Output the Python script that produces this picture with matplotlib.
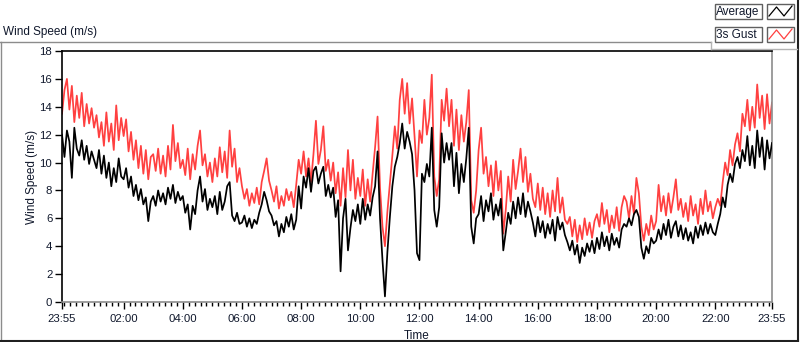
import numpy as np
import matplotlib
matplotlib.use("Agg")
import matplotlib.pyplot as plt
from matplotlib.lines import Line2D
from matplotlib.patches import Rectangle

# 5-minute samples starting at 23:55, one row per hour (00:00 .. 23:55)
gust_start = [13.5]
gust_hours = [
    [15.2, 16.0, 13.8, 15.5, 12.9, 14.8, 13.2, 15.0, 12.6, 14.2, 12.8, 13.9],
    [12.5, 13.4, 11.8, 12.9, 11.2, 13.6, 11.5, 12.8, 10.9, 14.1, 11.6, 13.2],
    [11.9, 13.1, 10.8, 12.2, 10.2, 11.6, 9.6, 11.2, 9.2, 10.9, 8.8, 10.4],
    [10.6, 9.4, 11.0, 9.2, 10.5, 9.0, 11.2, 9.5, 12.7, 10.1, 11.4, 9.6],
    [10.2, 9.1, 11.0, 8.8, 10.6, 9.5, 11.2, 12.3, 9.8, 10.6, 9.0, 10.0],
    [8.6, 10.3, 9.0, 11.1, 9.3, 10.8, 8.9, 12.3, 9.7, 11.0, 8.6, 9.6],
    [8.3, 7.4, 8.1, 6.9, 7.8, 7.1, 8.2, 7.0, 8.6, 9.4, 10.3, 8.7],
    [8.0, 7.2, 8.3, 6.7, 7.6, 6.9, 8.1, 7.3, 7.9, 6.8, 8.4, 10.2],
    [9.2, 10.8, 9.0, 10.3, 8.6, 10.6, 13.0, 9.9, 10.9, 12.6, 9.4, 10.2],
    [8.7, 10.0, 7.8, 9.3, 6.9, 9.6, 7.5, 10.9, 8.0, 10.2, 7.4, 8.9],
    [7.6, 9.5, 6.9, 8.8, 7.2, 9.2, 11.1, 13.3, 8.2, 5.4, 4.0, 6.5],
    [8.5, 10.5, 12.6, 11.0, 14.5, 16.0, 13.5, 15.7, 12.8, 14.6, 11.9, 9.0],
    [12.3, 11.4, 14.5, 12.0, 13.2, 16.3, 9.0, 7.6, 8.8, 14.5, 13.0, 15.3],
    [12.6, 14.5, 11.2, 13.8, 10.9, 13.4, 11.5, 12.9, 15.2, 7.3, 6.4, 8.0],
    [10.9, 12.5, 9.2, 10.4, 8.3, 9.8, 7.6, 10.1, 8.0, 9.4, 4.9, 6.6],
    [9.0, 7.2, 10.2, 8.1, 9.4, 11.0, 8.6, 10.4, 7.9, 9.2, 7.4, 6.8],
    [8.5, 6.6, 8.2, 6.3, 7.8, 6.1, 8.0, 6.5, 8.9, 6.4, 7.5, 5.9],
    [5.6, 6.1, 4.7, 5.9, 4.3, 5.5, 4.5, 6.0, 4.8, 5.7, 4.6, 5.8],
    [6.3, 5.4, 7.1, 5.6, 6.6, 5.0, 6.2, 5.3, 6.8, 5.1, 6.8, 7.6],
    [7.2, 6.0, 7.6, 6.3, 8.9, 7.8, 5.4, 4.4, 5.6, 4.8, 6.2, 5.2],
    [5.8, 8.4, 6.5, 7.6, 6.2, 7.8, 6.4, 7.5, 8.8, 6.6, 7.4, 6.1],
    [7.1, 5.8, 7.6, 6.2, 7.0, 5.6, 7.4, 6.3, 8.0, 6.5, 7.2, 6.0],
    [6.8, 7.4, 6.9, 8.6, 10.0, 9.1, 10.9, 9.8, 11.3, 12.1, 10.8, 13.5],
    [12.6, 14.5, 12.3, 14.0, 12.5, 15.6, 13.2, 14.8, 12.4, 14.9, 12.8, 14.3],
]

avg_start = [12.0]
avg_hours = [
    [10.4, 12.3, 11.5, 8.9, 12.5, 11.0, 10.5, 11.6, 10.2, 11.2, 9.9, 10.8],
    [10.2, 9.6, 10.9, 9.2, 10.5, 8.9, 10.0, 8.3, 9.6, 8.6, 10.3, 9.0],
    [8.8, 9.6, 8.2, 9.0, 7.6, 8.4, 7.3, 8.1, 7.0, 7.5, 5.8, 7.2],
    [7.6, 6.9, 8.0, 7.2, 7.8, 7.0, 8.2, 7.4, 8.4, 7.1, 7.9, 7.3],
    [7.6, 6.4, 7.0, 5.2, 6.9, 6.3, 8.0, 9.0, 7.2, 8.1, 6.6, 7.4],
    [6.8, 7.6, 6.3, 7.9, 6.6, 7.2, 8.3, 8.6, 6.2, 5.8, 6.4, 5.6],
    [5.7, 6.2, 5.4, 6.0, 5.3, 5.9, 5.6, 6.4, 7.0, 7.9, 7.3, 6.5],
    [6.2, 5.5, 5.8, 4.7, 5.6, 5.0, 6.1, 5.4, 6.3, 5.2, 5.9, 8.3],
    [6.7, 9.0, 8.2, 9.6, 7.9, 9.4, 9.7, 8.5, 9.2, 9.7, 7.6, 8.4],
    [7.5, 8.2, 6.1, 7.3, 2.2, 6.0, 7.4, 3.7, 5.3, 6.6, 5.8, 7.0],
    [5.6, 7.4, 5.9, 7.0, 6.2, 7.5, 8.3, 10.8, 6.0, 3.0, 0.4, 3.6],
    [6.1, 8.3, 9.7, 10.4, 11.4, 12.8, 11.0, 12.2, 11.5, 10.6, 8.0, 3.5],
    [3.0, 9.2, 8.6, 9.9, 9.0, 12.5, 6.6, 5.4, 6.8, 12.1, 10.0, 11.4],
    [10.2, 11.4, 8.3, 10.7, 7.8, 9.9, 8.6, 10.3, 12.5, 5.4, 4.2, 6.0],
    [6.3, 7.6, 5.8, 7.3, 6.5, 7.8, 5.9, 7.0, 6.2, 7.4, 3.7, 5.0],
    [6.4, 5.6, 7.2, 6.0, 7.5, 6.3, 7.8, 6.1, 7.2, 6.5, 5.7, 4.7],
    [6.1, 5.0, 5.8, 4.6, 5.6, 4.9, 5.9, 4.4, 6.1, 5.2, 5.7, 4.8],
    [4.3, 3.7, 4.4, 3.4, 4.1, 2.8, 3.9, 3.3, 4.2, 3.6, 4.4, 3.5],
    [4.6, 3.8, 5.0, 4.0, 4.7, 3.7, 4.9, 4.1, 4.6, 3.9, 5.2, 5.6],
    [5.4, 6.0, 5.5, 6.3, 6.6, 6.1, 3.9, 3.1, 4.0, 3.5, 4.6, 4.2],
    [4.4, 5.2, 4.5, 5.6, 4.8, 5.9, 4.6, 5.4, 5.8, 4.7, 5.5, 4.5],
    [5.3, 4.4, 5.0, 4.2, 5.4, 4.6, 5.5, 4.8, 5.7, 4.9, 5.6, 5.0],
    [4.8, 5.6, 6.3, 7.5, 6.8, 8.4, 9.2, 8.6, 9.9, 10.4, 9.6, 10.9],
    [10.1, 11.9, 9.8, 11.2, 9.6, 12.3, 10.4, 11.8, 9.5, 11.6, 10.3, 11.4],
]

tick_labels = ["23:55", "02:00", "04:00", "06:00", "08:00", "10:00", "12:00",
               "14:00", "16:00", "18:00", "20:00", "22:00", "23:55"]

gust = np.array(gust_start + [v for row in gust_hours for v in row])
avg = np.array(avg_start + [v for row in avg_hours for v in row])
minutes = np.arange(len(gust)) * 5  # minutes since 23:55

font = "Liberation Sans"
txt_color = "#10182c"
plt.rcParams["font.family"] = [font, "DejaVu Sans"]

W, H = 800, 342
fig = plt.figure(figsize=(W / 100, H / 100), dpi=100)

def fx(x):
    return x / W

def fy(y):
    return 1 - y / H

ax = fig.add_axes([fx(62), fy(302), 710 / W, 251 / H])
ax.plot(minutes, gust, color="#ff4040", linewidth=1.25, zorder=2)
ax.plot(minutes, avg, color="black", linewidth=1.25, zorder=3)

ax.set_xlim(0, 1440)
ax.set_ylim(0, 18)

# tick positions from the label text (minutes after 23:55)
major = []
for i, lab in enumerate(tick_labels):
    h, m = map(int, lab.split(":"))
    pos = (h * 60 + m - (23 * 60 + 55)) % 1440
    if i == len(tick_labels) - 1:
        pos = 1440
    major.append(pos)
ax.set_xticks(major)
ax.set_xticklabels(tick_labels)
ax.set_xticks(np.arange(5, 1440, 12), minor=True)
ax.set_yticks(np.arange(0, 19, 2))

ax.tick_params(axis="both", which="major", direction="out", length=5, width=1,
               colors="black", labelcolor=txt_color, labelsize=8.2, pad=2)
ax.tick_params(axis="x", which="major", pad=4)
ax.tick_params(axis="x", which="minor", direction="out", length=3, width=1, color="black")

for s in ["left", "top"]:
    ax.spines[s].set_color("black")
    ax.spines[s].set_linewidth(1.2)
for s in ["right", "bottom"]:
    ax.spines[s].set_color("#8c8c8c")
    ax.spines[s].set_linewidth(1.2)

ax.set_ylabel("Wind Speed (m/s)", fontsize=8.5, color=txt_color, labelpad=1)
ax.set_xlabel("Time", fontsize=8.5, color=txt_color, labelpad=4)

# chart title above the frame
fig.text(fx(3), fy(32), "Wind Speed (m/s)", fontsize=8.5, color=txt_color, va="center", ha="left")

# outer frame
def hline(x0, x1, y, c, lw=1.0):
    fig.add_artist(Line2D([fx(x0), fx(x1)], [fy(y), fy(y)], color=c, linewidth=lw))

def vline(x, y0, y1, c, lw=1.0):
    fig.add_artist(Line2D([fx(x), fx(x)], [fy(y0), fy(y1)], color=c, linewidth=lw))

hline(0, 711, 42, "#8c8c8c")
vline(1, 42, 341, "#8c8c8c")
hline(1, 798, 341, "#202020", 1.5)
vline(798, 0, 341, "#202020", 1.5)
hline(711, 797, 49, "#b4b4b4")
vline(711, 42, 49, "#b4b4b4")

# legend boxes
legend_names = ["Average", "3s Gust"]
legend_colors = ["black", "#ff4040"]
for i, (name, col) in enumerate(zip(legend_names, legend_colors)):
    top = 4 + i * 23
    for x0, x1 in [(715, 762), (767, 794)]:
        fig.add_artist(Rectangle((fx(x0), fy(top + 15)), (x1 - x0) / W, 15 / H,
                                 facecolor="white", edgecolor="#606060", linewidth=1.0))
    fig.text(fx(716), fy(top + 8), name, fontsize=8.5, color=txt_color, va="center", ha="left")
    zx = [769, 776.5, 784, 792]
    zy = [top + 12, top + 3, top + 12, top + 2]
    fig.add_artist(Line2D([fx(v) for v in zx], [fy(v) for v in zy], color=col, linewidth=0.9))

fig.savefig("out.png", dpi=100, facecolor="white")
